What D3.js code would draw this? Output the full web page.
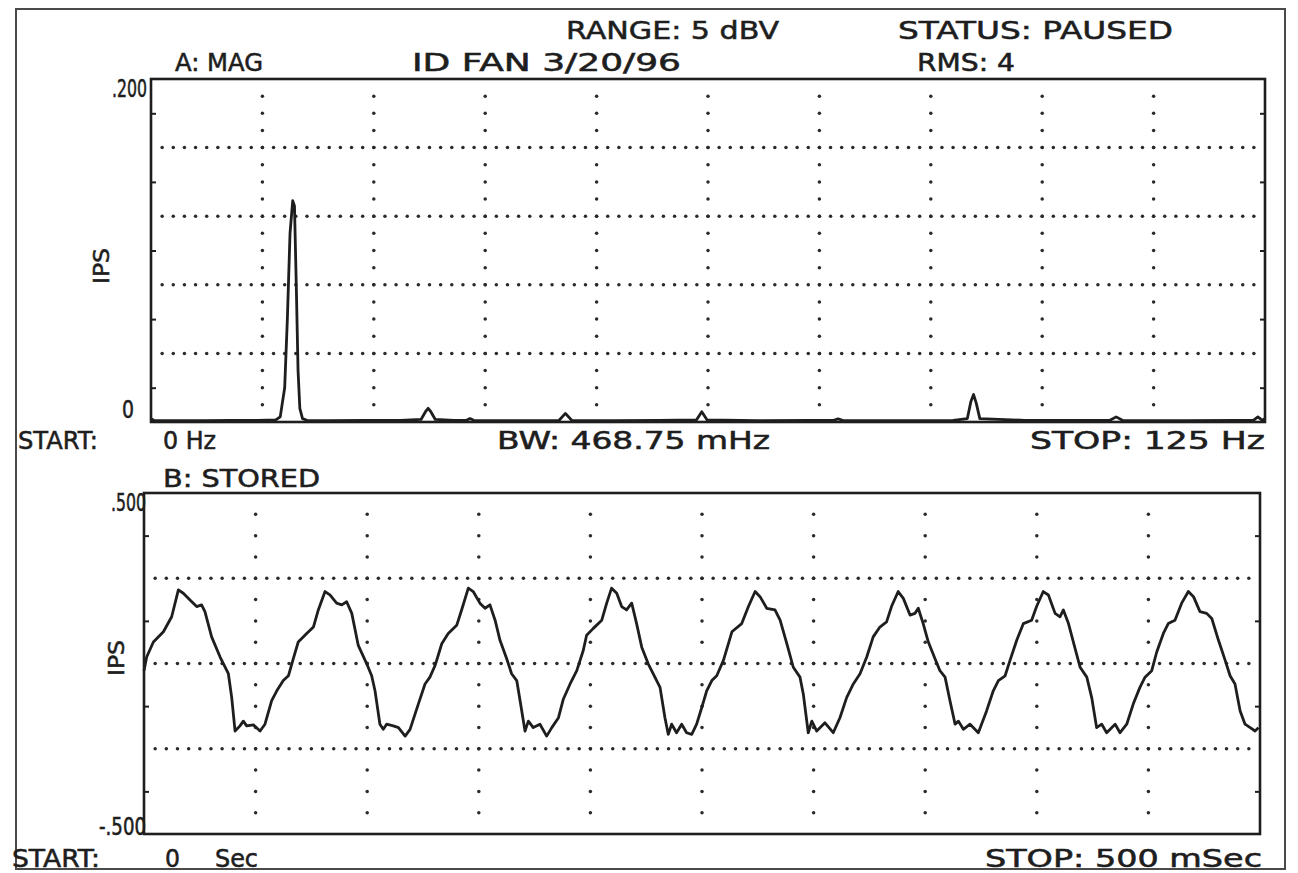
<!DOCTYPE html>
<html>
<head>
<meta charset="utf-8">
<script src="https://cdn.jsdelivr.net/npm/d3@7"></script>
<style>
  html, body { margin: 0; padding: 0; background: #ffffff; }
  svg { display: block; }
  text { font-family: "DejaVu Sans", "Liberation Sans", sans-serif; fill: #1e1e1e; stroke: #1e1e1e; stroke-width: 0.55px; }
  text.narrow { font-family: "Liberation Sans Narrow", "DejaVu Sans Condensed", "Liberation Sans", sans-serif; }
</style>
</head>
<body>
<svg id="chart" width="1298" height="873"></svg>
<script>
// ---------- DATA ----------
// Panel A: magnitude spectrum (Hz vs IPS)
const specFreq = [0, 0.3, 1, 3, 6, 9, 12, 14, 14.5, 15.0,
  15.3, 15.6, 15.9, 16.1, 16.3, 16.5, 16.7, 17.0, 17.5, 20,
  24, 28, 30.3, 30.8, 31.1, 31.4, 31.9, 34, 35.4, 35.8,
  36.2, 40, 45.8, 46.5, 47.2, 52, 57, 61.2, 61.8, 62.4,
  68, 74, 76.6, 77.1, 77.6, 84, 90, 91.6, 92.0, 92.3,
  92.6, 93.0, 98, 104, 107.6, 108.3, 109, 116, 122, 123.7,
  124.2, 124.7, 125];
const specMag = [0.002, 0.001, 0.0008, 0.0008, 0.0008, 0.001, 0.001, 0.0012, 0.003, 0.02,
  0.06, 0.11, 0.129, 0.126, 0.08, 0.03, 0.008, 0.002, 0.001, 0.0008,
  0.001, 0.001, 0.0015, 0.006, 0.008, 0.006, 0.0015, 0.001, 0.001, 0.002,
  0.001, 0.0008, 0.001, 0.005, 0.001, 0.0008, 0.001, 0.0012, 0.006, 0.0012,
  0.0008, 0.001, 0.001, 0.0018, 0.001, 0.0008, 0.001, 0.002, 0.012, 0.016,
  0.011, 0.002, 0.001, 0.001, 0.001, 0.003, 0.001, 0.0008, 0.001, 0.001,
  0.003, 0.001, 0.002];

// Panel B: stored time waveform (ms vs IPS)
const waveTime = [0, 1.2, 4.2, 8.7, 12.4, 15.4, 17.6, 21.4, 23.6, 25.8,
  27.3, 30.3, 34.1, 37.8, 39.3, 40.8, 43.0, 44.5, 46.0, 49.0,
  52.0, 54.2, 57.2, 59.5, 62.4, 64.7, 66.9, 69.1, 72.9, 75.9,
  78.1, 81.1, 83.3, 86.3, 88.6, 90.8, 93.1, 96.0, 99.8, 102.0,
  103.5, 105.7, 107.2, 108.7, 111.7, 114.0, 117.0, 119.2, 122.9, 125.9,
  128.1, 130.4, 133.4, 136.3, 140.1, 142.3, 145.3, 147.5, 150.5, 152.8,
  155.0, 157.3, 159.5, 162.5, 164.7, 167.0, 168.5, 170.7, 172.2, 174.4,
  177.4, 180.4, 182.7, 185.7, 187.9, 190.9, 193.9, 196.8, 198.3, 201.3,
  205.1, 207.3, 209.5, 211.8, 214.0, 216.2, 218.5, 220.7, 223.0, 225.9,
  228.9, 231.2, 233.4, 234.9, 236.4, 238.6, 240.9, 243.1, 245.4, 247.6,
  249.9, 252.1, 254.4, 256.6, 259.6, 263.4, 267.8, 270.8, 273.8, 276.0,
  279.0, 282.7, 285.0, 288.0, 290.9, 293.9, 295.4, 297.6, 299.2, 301.4,
  305.1, 308.8, 311.8, 314.8, 317.8, 320.8, 323.8, 326.7, 329.7, 332.7,
  334.9, 337.9, 340.2, 343.2, 345.4, 346.9, 349.1, 351.4, 354.4, 356.6,
  358.9, 361.1, 363.4, 364.9, 367.1, 370.1, 373.8, 377.5, 380.5, 382.8,
  385.8, 388.0, 391.0, 394.0, 397.7, 399.9, 402.9, 405.2, 408.2, 410.4,
  411.9, 414.2, 417.2, 419.4, 422.4, 424.6, 426.8, 429.1, 431.3, 435.1,
  437.3, 440.3, 443.2, 446.2, 448.5, 451.5, 453.7, 456.7, 458.9, 461.9,
  464.9, 467.9, 470.2, 473.1, 476.1, 478.4, 481.4, 484.4, 486.6, 488.8,
  491.1, 493.3, 495.6, 497.8, 499.3];
const waveVel = [-0.021, 0.019, 0.063, 0.093, 0.137, 0.216, 0.206, 0.181, 0.167, 0.172,
  0.152, 0.078, 0.019, -0.030, -0.100, -0.198, -0.183, -0.169, -0.183, -0.180,
  -0.198, -0.178, -0.109, -0.080, -0.050, -0.036, 0.014, 0.063, 0.088, 0.107,
  0.157, 0.211, 0.201, 0.177, 0.172, 0.181, 0.147, 0.053, -0.001, -0.036,
  -0.080, -0.178, -0.193, -0.178, -0.183, -0.188, -0.213, -0.193, -0.119, -0.060,
  -0.040, -0.006, 0.058, 0.088, 0.112, 0.157, 0.221, 0.211, 0.177, 0.162,
  0.172, 0.127, 0.068, 0.014, -0.030, -0.050, -0.109, -0.198, -0.169, -0.188,
  -0.178, -0.213, -0.188, -0.159, -0.104, -0.060, -0.021, 0.038, 0.083, 0.103,
  0.127, 0.177, 0.221, 0.206, 0.167, 0.157, 0.177, 0.117, 0.048, -0.001,
  -0.040, -0.070, -0.159, -0.208, -0.178, -0.203, -0.178, -0.203, -0.208, -0.178,
  -0.129, -0.080, -0.050, -0.036, 0.009, 0.093, 0.117, 0.167, 0.211, 0.196,
  0.162, 0.157, 0.127, 0.058, -0.011, -0.040, -0.090, -0.203, -0.169, -0.198,
  -0.174, -0.203, -0.159, -0.100, -0.060, -0.030, 0.019, 0.078, 0.107, 0.122,
  0.167, 0.211, 0.191, 0.142, 0.147, 0.162, 0.117, 0.063, 0.014, -0.021,
  -0.040, -0.109, -0.178, -0.169, -0.193, -0.178, -0.203, -0.139, -0.080, -0.050,
  -0.036, 0.009, 0.068, 0.117, 0.127, 0.167, 0.211, 0.201, 0.147, 0.137,
  0.157, 0.117, 0.043, -0.011, -0.040, -0.100, -0.188, -0.178, -0.203, -0.178,
  -0.203, -0.178, -0.119, -0.070, -0.040, -0.021, 0.033, 0.088, 0.117, 0.127,
  0.177, 0.211, 0.196, 0.152, 0.147, 0.132, 0.068, 0.009, -0.036, -0.060,
  -0.139, -0.178, -0.188, -0.198, -0.188];

// Axis domains & tick labels
const specDomainX = [0, 125];
const specDomainY = [0, 0.2];
const waveDomainX = [0, 500];
const waveDomainY = [-0.5, 0.5];
const specYTickLabels = [".200", "0"];
const waveYTickLabels = [".500", "-.500"];
const headerTexts = ["RANGE: 5 dBV", "STATUS: PAUSED", "A: MAG", "ID FAN 3/20/96", "RMS: 4"];
const specFooter = ["START:", "0 Hz", "BW: 468.75 mHz", "STOP: 125 Hz"];
const waveHeader = "B: STORED";
const waveFooter = ["START:", "0", "Sec", "STOP: 500 mSec"];
const yAxisTitle = "IPS";

// ---------- DRAWING ----------
const svg = d3.select("#chart");
const ink = "#1e1e1e";

// outer frame
svg.append("rect").attr("x", 16).attr("y", 9).attr("width", 1269).attr("height", 860)
  .attr("fill", "none").attr("stroke", "#4a4a4a").attr("stroke-width", 2);

function addText(str, x, y, size, len, anchor, cls) {
  const t = svg.append("text").attr("x", x).attr("y", y)
    .attr("font-size", size).attr("text-anchor", anchor || "start").text(str);
  if (cls) t.attr("class", cls);
  if (len) t.attr("textLength", len).attr("lengthAdjust", "spacingAndGlyphs");
  return t;
}

function panel(cfg) {
  const x = d3.scaleLinear(cfg.dx, [cfg.left, cfg.right]);
  const y = d3.scaleLinear(cfg.dy, [cfg.bottom, cfg.top]);
  const g = svg.append("g");
  const xDiv = (cfg.dx[1] - cfg.dx[0]) / 10;
  const yDiv = (cfg.dy[1] - cfg.dy[0]) / cfg.ydivs;

  // horizontal dotted grid lines (10 dots per division)
  const hx = d3.range(1, 100).map(i => cfg.dx[0] + i * xDiv / 10);
  for (let j = 1; j < cfg.ydivs; j++) {
    const yv = cfg.dy[0] + j * yDiv;
    g.selectAll(null).data(hx).join("circle")
      .attr("cx", d => x(d)).attr("cy", y(yv)).attr("r", 1.75).attr("fill", "#2a2a2a");
  }
  // vertical dotted grid lines (4 dots per division)
  const vy = d3.range(1, cfg.ydivs * 4).map(i => cfg.dy[0] + i * yDiv / 4);
  for (let k = 1; k < 10; k++) {
    const xv = cfg.dx[0] + k * xDiv;
    g.selectAll(null).data(vy).join("circle")
      .attr("cx", x(xv)).attr("cy", d => y(d)).attr("r", 1.75).attr("fill", "#2a2a2a");
  }

  // minor ticks at half divisions on left and right axes
  const half = d3.range(0, cfg.ydivs).map(j => cfg.dy[0] + (j + 0.5) * yDiv);
  g.append("g").attr("transform", `translate(${cfg.left},0)`)
    .call(d3.axisLeft(y).tickValues(half).tickSize(-5).tickFormat(""))
    .call(a => a.select(".domain").remove())
    .call(a => a.selectAll("line").attr("stroke", ink).attr("stroke-width", 2));
  g.append("g").attr("transform", `translate(${cfg.right},0)`)
    .call(d3.axisRight(y).tickValues(half).tickSize(-5).tickFormat(""))
    .call(a => a.select(".domain").remove())
    .call(a => a.selectAll("line").attr("stroke", ink).attr("stroke-width", 2));

  // trace
  const line = d3.line().x(d => x(d[0])).y(d => y(d[1])).curve(d3.curveLinear);
  g.append("path").datum(cfg.xs.map((v, i) => [v, cfg.ys[i]]))
    .attr("d", line).attr("fill", "none").attr("stroke", ink)
    .attr("stroke-width", 2.8).attr("stroke-linejoin", "round");

  // frame
  g.append("rect").attr("x", cfg.left).attr("y", cfg.top)
    .attr("width", cfg.right - cfg.left).attr("height", cfg.bottom - cfg.top)
    .attr("fill", "none").attr("stroke", ink).attr("stroke-width", 2.6);
  return {x, y};
}

const A = panel({dx: specDomainX, dy: specDomainY, left: 151, right: 1265, top: 79, bottom: 422,
  ydivs: 5, xs: specFreq, ys: specMag});
const B = panel({dx: waveDomainX, dy: waveDomainY, left: 144, right: 1260, top: 493, bottom: 834,
  ydivs: 4, xs: waveTime, ys: waveVel});

// header texts
addText(headerTexts[0], 566, 39, 25, 213);
addText(headerTexts[1], 898, 39, 25, 275);
addText(headerTexts[2], 175, 71, 24, 88);
addText(headerTexts[3], 412, 71, 24, 269);
addText(headerTexts[4], 917, 71, 24, 98);

// panel A y labels
addText(specYTickLabels[0], 147, A.y(0.2) + 18, 25, 35, "end", "narrow");
addText(specYTickLabels[1], 134, A.y(0) - 4, 25, 12, "end", "narrow");
svg.append("text").attr("transform", "translate(109,266) rotate(-90)")
  .attr("text-anchor", "middle").attr("font-size", 22)
  .attr("textLength", 36).attr("lengthAdjust", "spacingAndGlyphs").text(yAxisTitle);

// panel A footer
addText(specFooter[0], 18, 449, 24, 80);
addText(specFooter[1], 163, 449, 24, 53);
addText(specFooter[2], 497, 449, 24, 273);
addText(specFooter[3], 1265, 449, 24, 235, "end");

// panel B header and y labels
addText(waveHeader, 163, 487, 24, 157);
addText(waveYTickLabels[0], 146, B.y(0.5) + 18, 25, 35, "end", "narrow");
addText(waveYTickLabels[1], 146, B.y(-0.5) + 1, 25, 47, "end", "narrow");
svg.append("text").attr("transform", "translate(124,658) rotate(-90)")
  .attr("text-anchor", "middle").attr("font-size", 22)
  .attr("textLength", 36).attr("lengthAdjust", "spacingAndGlyphs").text(yAxisTitle);

// panel B footer
addText(waveFooter[0], 12, 867, 24, 88);
addText(waveFooter[1], 165, 867, 24, 15);
addText(waveFooter[2], 215, 867, 24, 43);
addText(waveFooter[3], 1262, 867, 24, 277, "end");
</script>
</body>
</html>
